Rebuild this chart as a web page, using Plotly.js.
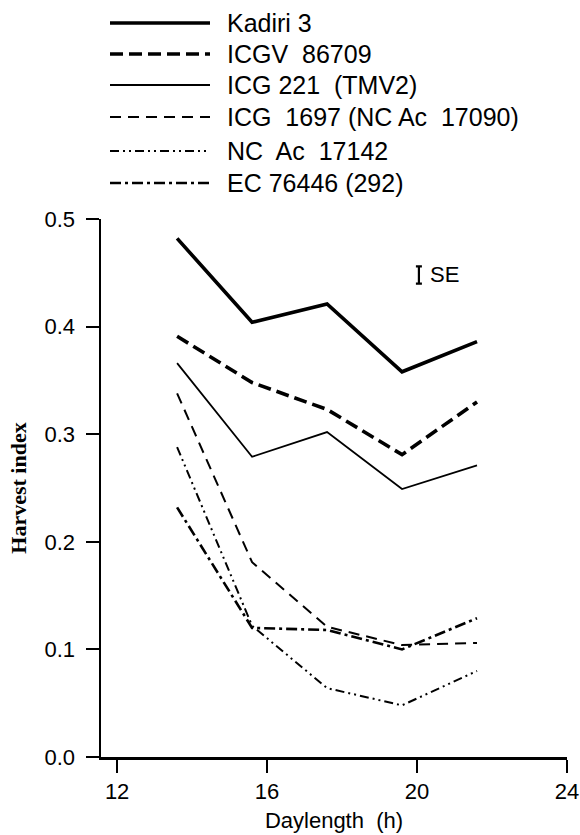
<!DOCTYPE html>
<html>
<head>
<meta charset="utf-8">
<script src="https://cdn.plot.ly/plotly-3.0.1.min.js"></script>
<style>html,body{margin:0;padding:0;background:#fff;}#chart{width:580px;height:835px;}</style>
</head>
<body>
<div id="chart"></div>
<script>
// ---- data ----
const daylength = [13.6, 15.6, 17.6, 19.6, 21.6];
const seriesNames = ["Kadiri 3", "ICGV  86709", "ICG 221  (TMV2)", "ICG  1697 (NC Ac  17090)", "NC  Ac  17142", "EC 76446 (292)"];
const kadiri3   = [0.482, 0.404, 0.421, 0.358, 0.386];
const icgv86709 = [0.391, 0.348, 0.323, 0.281, 0.330];
const icg221    = [0.366, 0.279, 0.302, 0.249, 0.271];
const icg1697   = [0.338, 0.181, 0.121, 0.104, 0.106];
const ncac17142 = [0.288, 0.122, 0.064, 0.048, 0.080];
const ec76446   = [0.232, 0.120, 0.118, 0.100, 0.129];
const seX = [20.05], seY = [0.448], seVal = [0.008];
const xTicks = [12, 16, 20, 24];
const yTicks = [0.0, 0.1, 0.2, 0.3, 0.4, 0.5];

// ---- styles ----
const styles = [
  {width: 3.6, dash: "solid"},
  {width: 3.6, dash: "13px,6px"},
  {width: 1.8, dash: "solid"},
  {width: 2.0, dash: "11px,7px"},
  {width: 2.0, dash: "9px,4px,2px,4px,2px,4px"},
  {width: 2.6, dash: "11px,4px,3px,4px"}
];
const allY = [kadiri3, icgv86709, icg221, icg1697, ncac17142, ec76446];

const traces = allY.map((ys, i) => ({
  type: "scatter", mode: "lines", x: daylength, y: ys, name: seriesNames[i],
  line: {color: "#000", width: styles[i].width, dash: styles[i].dash},
  showlegend: false, hoverinfo: "skip"
}));
traces.push({
  type: "scatter", mode: "markers", x: seX, y: seY, showlegend: false,
  marker: {size: 1, color: "rgba(0,0,0,0)"},
  error_y: {type: "data", array: seVal, visible: true, color: "#000", thickness: 2.2, width: 3}
});

// ---- layout geometry ----
const W = 580, H = 835;
const M = {l: 101, r: 13, t: 219, b: 78};
const pw = W - M.l - M.r, ph = H - M.t - M.b;
const px = x => (x - M.l) / pw;
const py = y => (H - M.b - y) / ph;

const shapes = [];
const annotations = [];
const legendRows = [23, 54, 85, 117, 151, 183];
legendRows.forEach((ry, i) => {
  shapes.push({type: "line", xref: "paper", yref: "paper",
    x0: px(110), x1: px(210), y0: py(ry), y1: py(ry),
    line: {color: "#000", width: styles[i].width, dash: styles[i].dash}});
  annotations.push({xref: "paper", yref: "paper", x: px(225), y: py(ry),
    xanchor: "left", yanchor: "middle", showarrow: false, text: seriesNames[i],
    font: {family: "Liberation Sans, Arial, sans-serif", size: 25, color: "#000"}});
});
annotations.push({xref: "x", yref: "y", x: seX[0], y: seY[0], xshift: 9,
  xanchor: "left", yanchor: "middle", showarrow: false, text: "SE",
  font: {family: "Liberation Sans, Arial, sans-serif", size: 22, color: "#000"}});

const layout = {
  width: W, height: H,
  margin: M,
  paper_bgcolor: "#fff", plot_bgcolor: "#fff",
  showlegend: false,
  font: {family: "Liberation Sans, Arial, sans-serif", size: 22, color: "#000"},
  xaxis: {
    range: [11.57, 24], tickvals: xTicks, ticktext: xTicks.map(String),
    showgrid: false, zeroline: false, showline: true, linecolor: "#000", linewidth: 2.5,
    ticks: "outside", ticklen: 13, tickwidth: 2, tickcolor: "#000",
    tickfont: {size: 22},
    title: {text: "Daylength  (h)", font: {size: 22}, standoff: 10}
  },
  yaxis: {
    range: [0, 0.5], tickvals: yTicks, ticktext: yTicks.map(v => v.toFixed(1)),
    showgrid: false, zeroline: false, showline: true, linecolor: "#000", linewidth: 2.5,
    ticks: "outside", ticklen: 13, tickwidth: 2, tickcolor: "#000",
    tickfont: {size: 22}, ticklabelstandoff: 6,
    title: {text: "<b>Harvest index</b>", font: {family: "Liberation Serif, Times New Roman, serif", size: 22}, standoff: 12}
  },
  shapes: shapes,
  annotations: annotations
};

Plotly.newPlot("chart", traces, layout, {staticPlot: true, displayModeBar: false});
</script>
</body>
</html>
